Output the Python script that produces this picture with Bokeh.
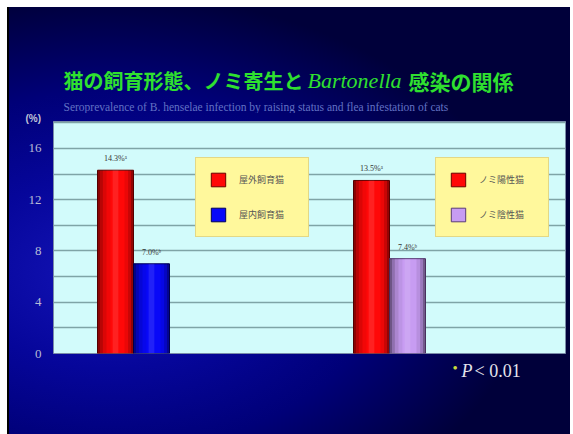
from bokeh.plotting import figure
from bokeh.layouts import column
from bokeh.models import (Range1d, FixedTicker, SingleIntervalTicker, Legend,
                          LegendItem, Label, ColumnDataSource)
from bokeh.core.properties import value
from bokeh.embed import file_html
from bokeh.resources import INLINE

# ---------------- data ----------------
groups = ["飼育形態", "ノミ寄生"]
series_a = ["屋外飼育猫", "ノミ陽性猫"]
series_b = ["屋内飼育猫", "ノミ陰性猫"]
values_a = [14.3, 13.5]
values_b = [7.0, 7.4]
marks_a = ["a", "a"]
marks_b = ["b", "b"]
y_ticks = [0, 4, 8, 12, 16]

# ---------------- styles ----------------
colors_a = ["#ff0808", "#ff0808"]
colors_b = ["#0808f8", "#c79cf2"]
edges_a = ["#6a0000", "#6a0000"]
edges_b = ["#00005a", "#5a3c78"]
SUP = {"a": "\u1d43", "b": "\u1d47"}
BW = 0.1406
CJK = "Noto Sans CJK JP"
GREEN = "#2fe02f"
W = 561


def text_panel(h):
    f = figure(width=W, height=h, output_backend="svg", toolbar_location=None,
               x_range=Range1d(0, W), y_range=Range1d(0, h),
               x_axis_type=None, y_axis_type=None, min_border=0)
    f.border_fill_alpha = 0
    f.background_fill_alpha = 0
    f.outline_line_color = None
    f.grid.visible = False
    return f


def put(f, x, y, text, place="center", **kw):
    f.add_layout(Label(x=x, y=y, x_units="screen", y_units="screen", text=text,
                       text_baseline="middle", **kw), place)


# ---------------- top panel: titles ----------------
top = text_panel(106)
put(top, 10, 33, "猫の飼育形態、ノミ寄生と", text_font=CJK, text_font_style="bold",
    text_font_size="20px", text_color=GREEN)
put(top, 254, 33, "Bartonella", text_font="Liberation Serif", text_font_style="italic",
    text_font_size="22px", text_color=GREEN)
put(top, 355, 33, "感染の関係", text_font=CJK, text_font_style="bold",
    text_font_size="21px", text_color=GREEN)
put(top, 10, 7, "Seroprevalence of B. henselae infection by raising status and flea infestation of cats",
    text_font="Liberation Serif", text_font_size="11.5px", text_color="#6272c4")

# ---------------- main chart ----------------
p = figure(width=W, height=248, output_backend="svg", toolbar_location=None,
           x_range=Range1d(-0.3125, 1.6875), y_range=Range1d(0, 18.1),
           min_border_left=44, min_border_right=5, min_border_top=8,
           min_border_bottom=8)
p.border_fill_alpha = 0
p.background_fill_color = "#d2fbfb"
p.outline_line_color = "#7a8ca8"
p.outline_line_width = 1

p.xaxis.visible = False
p.xgrid.visible = False
p.ygrid.ticker = SingleIntervalTicker(interval=2)
p.ygrid.grid_line_color = "#7fa4a6"
p.ygrid.grid_line_width = 1.6

ax = p.yaxis[0]
ax.ticker = FixedTicker(ticks=y_ticks)
ax.axis_line_color = None
ax.major_tick_line_color = None
ax.minor_tick_line_color = None
ax.major_label_text_color = "#b8bcd6"
ax.major_label_text_font = "Liberation Serif"
ax.major_label_text_font_size = "13px"
ax.major_label_standoff = 6

# unit label "(%)" in the left side panel, above the frame top
put(p, 16, 235, "(%)", place="left", text_font="Liberation Sans",
    text_font_style="bold", text_font_size="10px", text_color="#c0c4d8")

left_shade = [(0.0, 0.07, 0.45), (0.07, 0.15, 0.28), (0.15, 0.25, 0.14), (0.25, 0.36, 0.05)]
right_shade = [(0.93, 1.0, 0.42), (0.85, 0.93, 0.22), (0.75, 0.85, 0.08)]


def draw_bar(xc, top_v, color, edge):
    src = ColumnDataSource(dict(x=[xc], top=[top_v]))
    r = p.vbar(x="x", top="top", width=BW, bottom=0, source=src,
               fill_color=color, line_color=edge, line_width=1)
    left = xc - BW / 2
    for f0, f1, a in left_shade + right_shade:
        p.vbar(x=[left + (f0 + f1) / 2 * BW], top=[top_v], width=(f1 - f0) * BW,
               bottom=0, fill_color="black", fill_alpha=a, line_color=None)
    p.vbar(x=[left + 0.5 * BW], top=[top_v], width=0.16 * BW, bottom=0,
           fill_color="white", fill_alpha=0.10, line_color=None)
    return r


ra, rb = [], []
for i in range(len(groups)):
    ra.append(draw_bar(i - BW / 2, values_a[i], colors_a[i], edges_a[i]))
    rb.append(draw_bar(i + BW / 2, values_b[i], colors_b[i], edges_b[i]))

# value labels
lab_x = [i - BW / 2 for i in range(len(groups))] + [i + BW / 2 for i in range(len(groups))]
lab_y = values_a + values_b
lab_t = [f"{v:.1f}%{SUP[m]}" for v, m in zip(values_a + values_b, marks_a + marks_b)]
p.text(x=lab_x, y=lab_y, text=lab_t, text_align="center", text_baseline="bottom",
       y_offset=-7, text_font=value("Liberation Serif"), text_font_size="8px",
       text_color="#333333")

# legends
for i, (lx, ly) in enumerate([(142, 116), (382, 116)]):
    leg = Legend(items=[LegendItem(label=series_a[i], renderers=[ra[i]]),
                        LegendItem(label=series_b[i], renderers=[rb[i]])],
                 location=(lx, ly), orientation="vertical",
                 background_fill_color="#fff89c", background_fill_alpha=1,
                 border_line_color="#c8b870", border_line_width=1,
                 label_text_font=CJK, label_text_font_size="9px",
                 label_text_color="#555555",
                 glyph_width=18, glyph_height=17, label_height=17,
                 label_width=56, label_standoff=12, padding=13, spacing=18,
                 margin=0)
    p.add_layout(leg, "center")

# ---------------- bottom panel: significance note ----------------
bot = text_panel(73)
put(bot, 399, 67, "•", text_font="Liberation Serif", text_font_size="15px",
    text_color="#c8dc3c")
put(bot, 408, 64, "P", text_font="Liberation Serif", text_font_style="italic",
    text_font_size="18px", text_color="#e4e4ec")
put(bot, 421, 64, "< 0.01", text_font="Liberation Serif", text_font_size="18px",
    text_color="#e4e4ec")

layout = column(top, p, bot, spacing=0)
layout.margin = (7, 3, 0, 9)
layout.styles = {
    "background": "radial-gradient(ellipse 75% 65% at 18% 62%, #1414b8 0%, #06069a 35%, #000078 65%, #00003a 100%)",
    "box-shadow": "-2px 0 0 0 #000",
}

open("out.html", "w").write(file_html(layout, INLINE))
